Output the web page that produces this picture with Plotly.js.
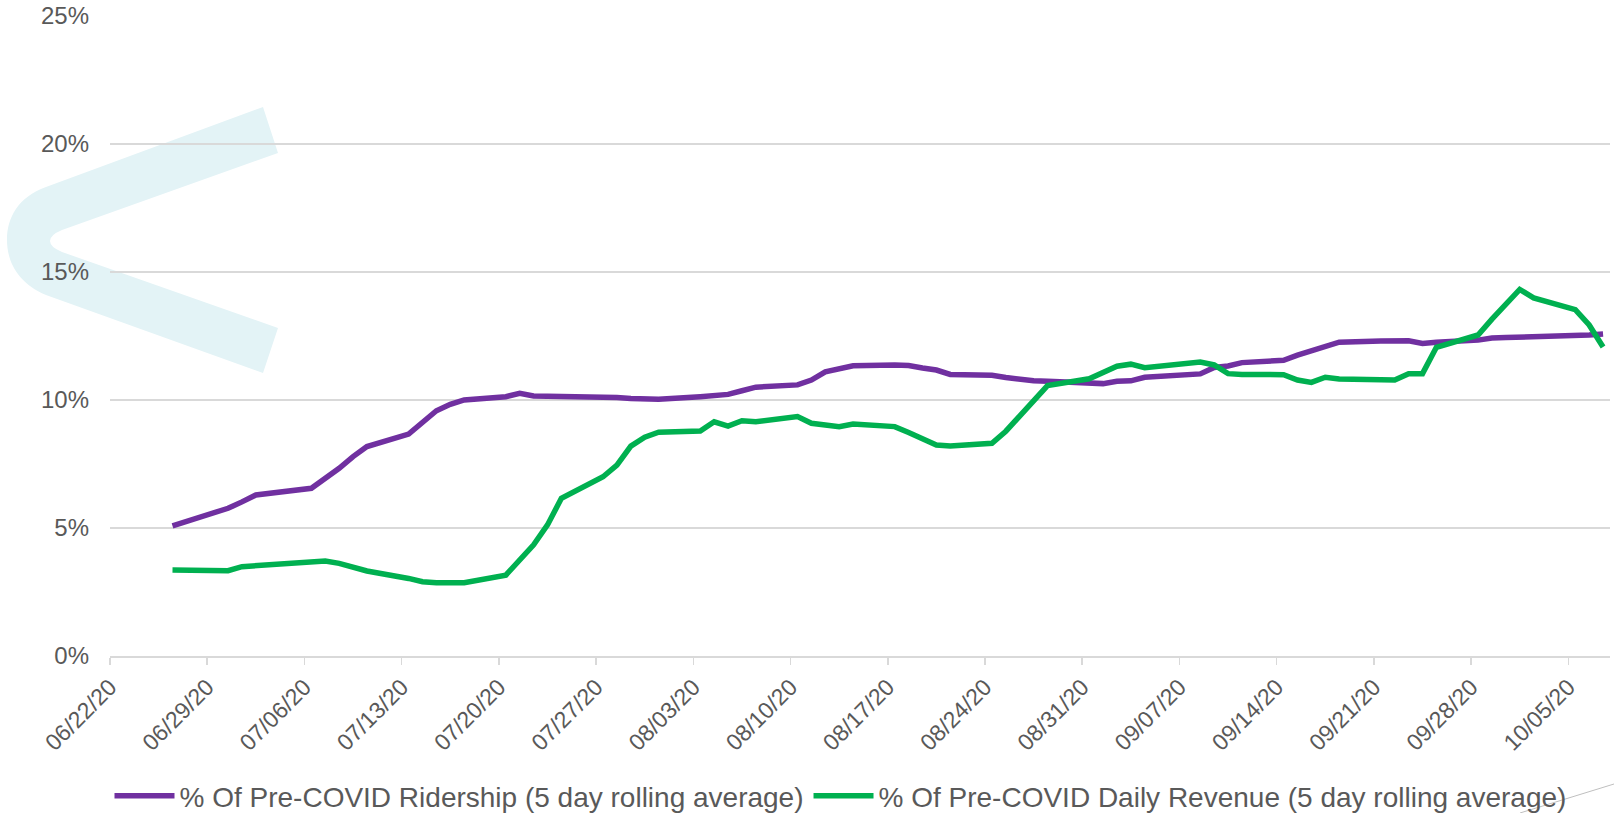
<!DOCTYPE html>
<html>
<head>
<meta charset="utf-8">
<script src="https://cdn.plot.ly/plotly-3.0.1.min.js"></script>
<style>
  html, body { margin: 0; padding: 0; background: #ffffff; }
  #chart { width: 1614px; height: 813px; }
</style>
</head>
<body>
<div id="chart"></div>
<script>
// Weekday dates (07/03 and 09/07 holidays absent)
const dates = [
  '2020-06-26',
  '2020-06-29','2020-06-30','2020-07-01','2020-07-02',
  '2020-07-06','2020-07-07','2020-07-08','2020-07-09','2020-07-10',
  '2020-07-13','2020-07-14','2020-07-15','2020-07-16','2020-07-17',
  '2020-07-20','2020-07-21','2020-07-22','2020-07-23','2020-07-24',
  '2020-07-27','2020-07-28','2020-07-29','2020-07-30','2020-07-31',
  '2020-08-03','2020-08-04','2020-08-05','2020-08-06','2020-08-07',
  '2020-08-10','2020-08-11','2020-08-12','2020-08-13','2020-08-14',
  '2020-08-17','2020-08-18','2020-08-19','2020-08-20','2020-08-21',
  '2020-08-24','2020-08-25','2020-08-26','2020-08-27','2020-08-28',
  '2020-08-31','2020-09-01','2020-09-02','2020-09-03','2020-09-04',
  '2020-09-08','2020-09-09','2020-09-10','2020-09-11',
  '2020-09-14','2020-09-15','2020-09-16','2020-09-17','2020-09-18',
  '2020-09-21','2020-09-22','2020-09-23','2020-09-24','2020-09-25',
  '2020-09-28','2020-09-29','2020-09-30','2020-10-01','2020-10-02',
  '2020-10-05','2020-10-06','2020-10-07'
];

const ridershipPct = [
  5.08,
  5.60, 5.77, 6.02, 6.29,
  6.55, 6.94, 7.33, 7.79, 8.18,
  8.67, 9.15, 9.58, 9.83, 10.00,
  10.13, 10.26, 10.16, 10.15, 10.18,
  10.14, 10.10, 10.06, 10.03, 10.03,
  10.13, 10.16, 10.22, 10.36, 10.50,
  10.59, 10.78, 11.10, 11.24, 11.34,
  11.37, 11.35, 11.25, 11.17, 11.00,
  10.97, 10.88, 10.81, 10.75, 10.73,
  10.65, 10.64, 10.73, 10.75, 10.89,
  11.02, 11.27, 11.33, 11.46,
  11.55, 11.75, 11.92, 12.14, 12.26,
  12.30, 12.31, 12.31, 12.21, 12.26,
  12.34, 12.42, 12.44, 12.45, 12.46,
  12.54, 12.54, 12.58
];

const revenuePct = [
  3.36,
  3.32, 3.33, 3.49, 3.52,
  3.64, 3.71, 3.62, 3.46, 3.32,
  3.03, 2.90, 2.86, 2.87, 2.86,
  3.16, 3.75, 4.34, 5.12, 6.16,
  7.00, 7.46, 8.20, 8.55, 8.74,
  8.79, 9.15, 8.98, 9.19, 9.15,
  9.35, 9.09, 9.02, 8.96, 9.06,
  8.96, 8.73, 8.48, 8.24, 8.20,
  8.31, 8.78, 9.37, 9.96, 10.56,
  10.83, 11.08, 11.32, 11.40, 11.26,
  11.48, 11.37, 11.03, 11.00,
  10.99, 10.78, 10.69, 10.89, 10.82,
  10.79, 10.78, 11.03, 11.03, 12.06,
  12.54, 13.16, 13.71, 14.32, 13.99,
  13.53, 12.93, 12.07
];

const seriesNames = [
  '% Of Pre-COVID Ridership (5 day rolling average)',
  '% Of Pre-COVID Daily Revenue (5 day rolling average)'
];

// Date-axis points sit in the middle of each day slot
const xMid = dates.map(d => d + ' 12:00');

const FONT = '"Liberation Sans", Arial, sans-serif';
const W = 1614, H = 813;
const M = { l: 110, r: 4, t: 16, b: 157, autoexpand: false };
const plotW = W - M.l - M.r, plotH = H - M.t - M.b;
// pixel -> paper helpers for decorative shapes
const px = x => ((x - M.l) / plotW).toFixed(5);
const py = y => ((H - M.b - y) / plotH).toFixed(5);
const P = (x, y) => px(x) + ',' + py(y);

const chevron = 'M' + P(46,187) + ' L' + P(263,107) + ' L' + P(278,153) + ' L' + P(62,230) +
  ' Q' + P(50,235) + ' ' + P(50,241) + ' Q' + P(50,247) + ' ' + P(62,252) +
  ' L' + P(278,328) + ' L' + P(263,373) + ' L' + P(46,295) +
  ' C' + P(18,283) + ' ' + P(7,262) + ' ' + P(7,240) +
  ' C' + P(7,218) + ' ' + P(18,197) + ' ' + P(46,187) + ' Z';

const traces = [
  { x: xMid, y: ridershipPct, name: seriesNames[0], type: 'scatter', mode: 'lines',
    line: { color: '#7030A0', width: 5.5 }, hoverinfo: 'skip' },
  { x: xMid, y: revenuePct, name: seriesNames[1], type: 'scatter', mode: 'lines',
    line: { color: '#00B050', width: 5.5 }, hoverinfo: 'skip' }
];

const layout = {
  width: W, height: H,
  margin: M,
  paper_bgcolor: '#ffffff', plot_bgcolor: 'rgba(0,0,0,0)',
  font: { family: FONT, color: '#595959' },
  showlegend: true,
  legend: {
    orientation: 'h', x: 0.487, xanchor: 'center', y: -0.219, yanchor: 'middle',
    font: { family: FONT, size: 28, color: '#595959' },
    bgcolor: 'rgba(0,0,0,0)', itemwidth: 60
  },
  xaxis: {
    type: 'date', automargin: false,
    range: ['2020-06-22', '2020-10-08'],
    tickmode: 'linear', tick0: '2020-06-22', dtick: 7 * 86400000,
    tickformat: '%m/%d/%y', tickangle: -45,
    showgrid: false, zeroline: false,
    showline: true, linecolor: '#D9D9D9', linewidth: 1.5,
    ticks: 'outside', ticklen: 7, tickcolor: '#D9D9D9', tickwidth: 1.5,
    tickfont: { family: FONT, size: 23, color: '#595959' }
  },
  yaxis: {
    automargin: false,
    range: [0, 25], tickmode: 'linear', tick0: 0, dtick: 5, ticksuffix: '%',
    showgrid: true, gridcolor: '#D9D9D9', gridwidth: 1.5,
    zeroline: false, showline: false, ticks: '',
    ticklabelstandoff: 20,
    tickfont: { family: FONT, size: 24, color: '#595959' }
  },
  shapes: [
    { type: 'path', xref: 'paper', yref: 'paper', layer: 'below',
      path: chevron, fillcolor: '#E3F3F6', line: { width: 0 } },
    { type: 'line', xref: 'paper', yref: 'paper', layer: 'above',
      x0: px(1520), y0: py(813), x1: px(1614), y1: py(784),
      line: { color: '#BFBFBF', width: 1 } }
  ]
};

Plotly.newPlot('chart', traces, layout, { displayModeBar: false, staticPlot: true });
</script>
</body>
</html>
